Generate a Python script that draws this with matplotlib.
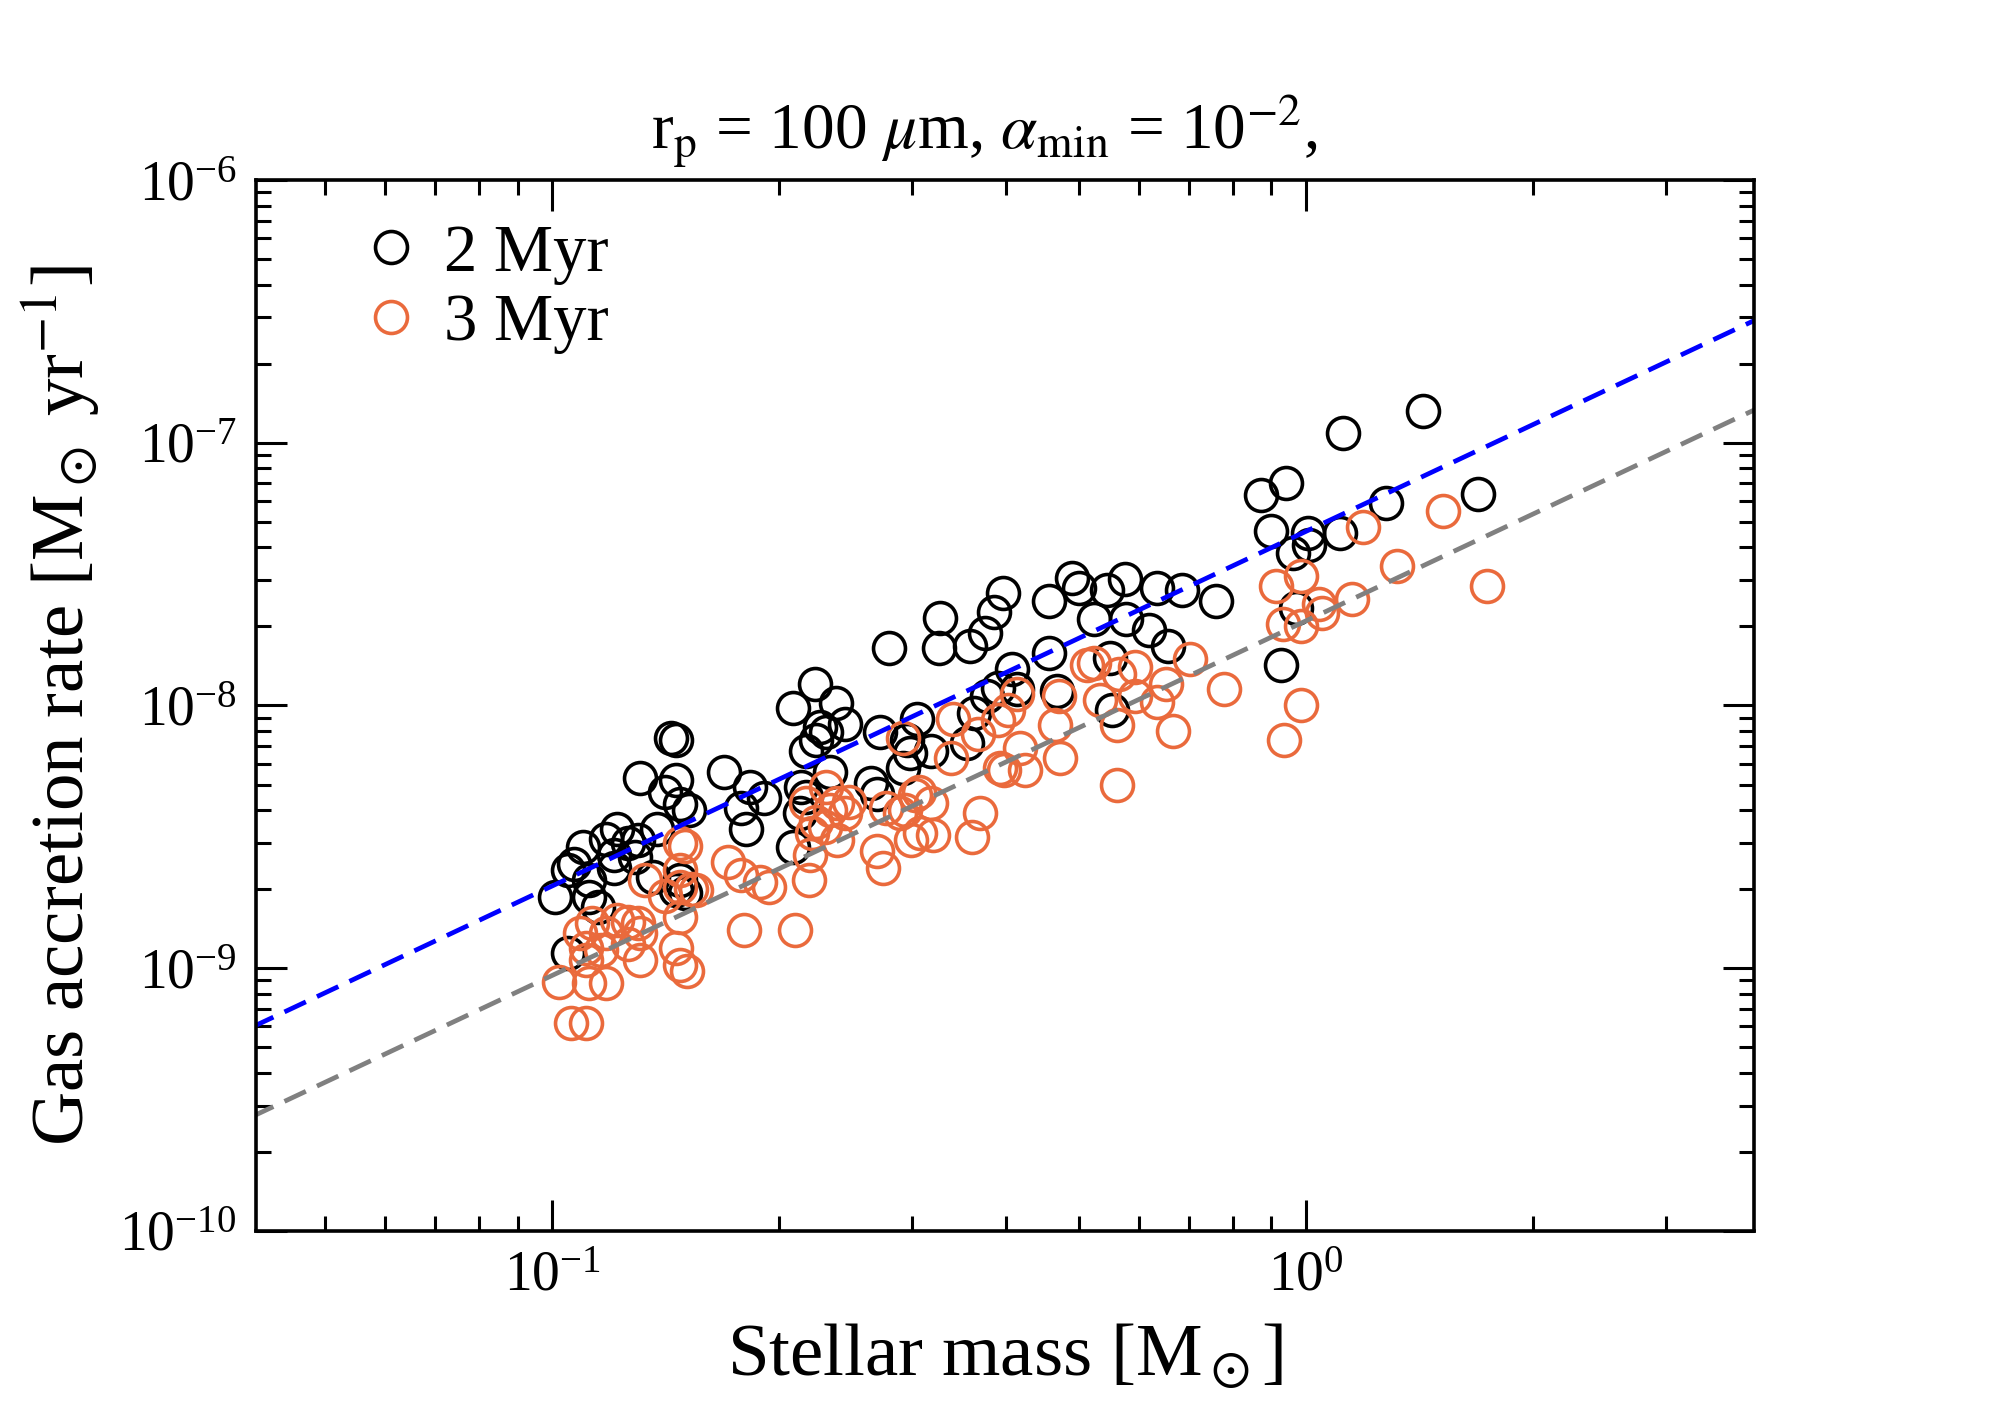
import matplotlib
matplotlib.use('Agg')
import matplotlib.pyplot as plt
import numpy as np

# stellar mass [Msun] and gas accretion rate [Msun/yr]
mass_2myr = [0.101, 0.105, 0.107, 0.110, 0.105, 0.112, 0.112, 0.115, 0.118, 0.122,
             0.126, 0.121, 0.129, 0.121, 0.130, 0.138, 0.131, 0.144, 0.146, 0.146,
             0.141, 0.148, 0.152, 0.136, 0.148, 0.146, 0.150, 0.169, 0.183, 0.191,
             0.178, 0.181,
             0.223, 0.209, 0.238, 0.245, 0.227, 0.231, 0.224, 0.217, 0.234, 0.214,
             0.217, 0.213, 0.272, 0.305, 0.296, 0.292, 0.265, 0.270, 0.209, 0.280,
             0.326, 0.327, 0.358, 0.375, 0.386, 0.396, 0.456, 0.489, 0.500, 0.544,
             0.575, 0.634, 0.684, 0.760, 0.523, 0.578, 0.620, 0.657, 0.456, 0.408,
             0.549, 0.468, 0.553, 0.390, 0.378, 0.414, 0.363, 0.355, 0.318, 0.298,
             1.43, 1.12, 0.941, 0.872, 0.899, 1.006, 1.009, 0.961, 1.11, 1.275,
             1.69, 0.970, 0.927]
rate_2myr = [1.86e-9, 1.14e-9, 2.5e-9, 2.9e-9, 2.36e-9, 2.16e-9, 1.86e-9, 1.71e-9, 3.1e-9, 3.4e-9,
             3.0e-9, 2.7e-9, 2.64e-9, 2.4e-9, 3.07e-9, 3.4e-9, 5.3e-9, 7.5e-9, 7.36e-9, 5.2e-9,
             4.67e-9, 4.2e-9, 4.0e-9, 2.22e-9, 2.16e-9, 1.98e-9, 1.93e-9, 5.56e-9, 4.88e-9, 4.43e-9,
             4.09e-9, 3.4e-9,
             1.21e-8, 9.8e-9, 1.02e-8, 8.5e-9, 8.25e-9, 7.9e-9, 7.4e-9, 6.7e-9, 5.6e-9, 4.9e-9,
             4.5e-9, 3.9e-9, 7.9e-9, 8.9e-9, 7.4e-9, 5.8e-9, 5.05e-9, 4.6e-9, 2.9e-9, 1.65e-8,
             1.65e-8, 2.16e-8, 1.69e-8, 1.89e-8, 2.26e-8, 2.67e-8, 2.5e-8, 3.07e-8, 2.8e-8, 2.74e-8,
             3.04e-8, 2.8e-8, 2.74e-8, 2.5e-8, 2.14e-8, 2.14e-8, 1.93e-8, 1.69e-8, 1.58e-8, 1.38e-8,
             1.52e-8, 1.14e-8, 9.6e-9, 1.17e-8, 1.09e-8, 1.16e-8, 9.4e-9, 7.2e-9, 6.7e-9, 6.6e-9,
             1.32e-7, 1.09e-7, 7.05e-8, 6.3e-8, 4.6e-8, 4.55e-8, 4.1e-8, 3.8e-8, 4.55e-8, 5.9e-8,
             6.4e-8, 2.34e-8, 1.42e-8]

mass_3myr = [0.148, 0.150, 0.171, 0.178, 0.180, 0.133, 0.148, 0.141, 0.148, 0.153,
             0.155, 0.148, 0.109, 0.113, 0.118, 0.122, 0.126, 0.130, 0.131, 0.111,
             0.116, 0.126, 0.131, 0.146, 0.148, 0.151, 0.102, 0.112, 0.118, 0.111,
             0.106, 0.111,
             0.292, 0.231, 0.217, 0.239, 0.248, 0.234, 0.245, 0.224, 0.230, 0.239,
             0.221, 0.220, 0.219, 0.277, 0.289, 0.307, 0.318, 0.270, 0.275, 0.299,
             0.308, 0.189, 0.194, 0.210, 0.303, 0.294, 0.320, 0.370, 0.361,
             0.340, 0.367, 0.390, 0.402, 0.414, 0.338, 0.418, 0.393, 0.398, 0.424,
             0.470, 0.465, 0.472, 0.512, 0.523, 0.565, 0.593, 0.533, 0.593, 0.634,
             0.653, 0.701, 0.779, 0.561, 0.667, 0.561, 0.913, 0.985, 0.932, 0.985,
             0.985, 0.935,
             1.52, 1.19, 1.32, 1.15, 1.04, 1.05, 1.74]
rate_3myr = [3.0e-9, 2.93e-9, 2.53e-9, 2.26e-9, 1.4e-9, 2.16e-9, 2.36e-9, 1.89e-9, 2.03e-9, 2.0e-9,
             1.98e-9, 1.56e-9, 1.36e-9, 1.48e-9, 1.36e-9, 1.52e-9, 1.5e-9, 1.48e-9, 1.36e-9, 1.19e-9,
             1.17e-9, 1.24e-9, 1.07e-9, 1.19e-9, 1.03e-9, 9.8e-10, 8.85e-10, 8.8e-10, 8.8e-10, 1.07e-9,
             6.2e-10, 6.2e-10,
             7.5e-9, 4.9e-9, 4.24e-9, 4.24e-9, 4.28e-9, 4.0e-9, 3.9e-9, 3.6e-9, 3.44e-9, 3.07e-9,
             3.26e-9, 2.7e-9, 2.16e-9, 4.09e-9, 3.9e-9, 4.67e-9, 4.24e-9, 2.8e-9, 2.4e-9, 3.07e-9,
             3.26e-9, 2.12e-9, 2.03e-9, 1.4e-9, 4.55e-9, 4.0e-9, 3.2e-9, 3.9e-9, 3.16e-9,
             8.9e-9, 7.8e-9, 8.8e-9, 9.6e-9, 1.11e-8, 6.3e-9, 6.9e-9, 5.8e-9, 5.66e-9, 5.7e-9,
             1.09e-8, 8.4e-9, 6.3e-9, 1.42e-8, 1.45e-8, 1.32e-8, 1.4e-8, 1.05e-8, 1.09e-8, 1.03e-8,
             1.21e-8, 1.5e-8, 1.16e-8, 8.4e-9, 8.0e-9, 5.0e-9, 2.86e-8, 3.1e-8, 2.05e-8, 2.0e-8,
             1.0e-8, 7.4e-9,
             5.5e-8, 4.8e-8, 3.4e-8, 2.55e-8, 2.44e-8, 2.24e-8, 2.86e-8]

# power-law relations  Mdot = norm * M^slope
slope = 1.35
norm_blue = 4.6e-8
norm_gray = 2.1e-8

orange = '#EA6A3C'

plt.rcParams['font.family'] = 'serif'
plt.rcParams['font.serif'] = ['Liberation Serif', 'DejaVu Serif']
plt.rcParams['mathtext.fontset'] = 'stix'

fig = plt.figure(figsize=(20.1, 14.1), dpi=100)
ax = fig.add_axes([0.1274, 0.127, 0.7453, 0.7453])

ax.plot(mass_2myr, rate_2myr, 'o', mfc='none', mec='black', ms=23, mew=2.6,
        label='2 Myr')
ax.plot(mass_3myr, rate_3myr, 'o', mfc='none', mec=orange, ms=23, mew=2.6,
        label='3 Myr')

xl = np.array([0.04, 4.0])
ax.plot(xl, norm_blue * xl**slope, color='blue', lw=3.4, dashes=(5, 2.6))
ax.plot(xl, norm_gray * xl**slope, color='gray', lw=3.4, dashes=(5, 2.6))

ax.set_xscale('log')
ax.set_yscale('log')
ax.set_xlim(0.0405, 3.93)
ax.set_ylim(1e-10, 1e-6)

ax.tick_params(which='both', direction='in', top=True, right=True, width=2.2,
               labelsize=40)
ax.tick_params(which='major', length=22, pad=14)
ax.tick_params(which='minor', length=11)
for s in ax.spines.values():
    s.set_linewidth(2.6)

ax.set_xlabel(r'Stellar mass [M$_\odot$]', fontsize=54, labelpad=14)
ax.set_ylabel(r'Gas accretion rate [M$_\odot$ yr$^{-1}$]', fontsize=54, labelpad=12)
ax.set_title(r'r$_{\rm p}$ = 100 $\mu$m, $\alpha_{\rm min}$ = 10$^{-2}$,',
             fontsize=47, pad=22, x=0.486)

ax.legend(loc='upper left', frameon=False, fontsize=48, handlelength=1.0,
          handletextpad=0.3, labelspacing=0.13, borderaxespad=0,
          bbox_to_anchor=(0.05, 0.984))

fig.savefig('out.png', dpi=100)
